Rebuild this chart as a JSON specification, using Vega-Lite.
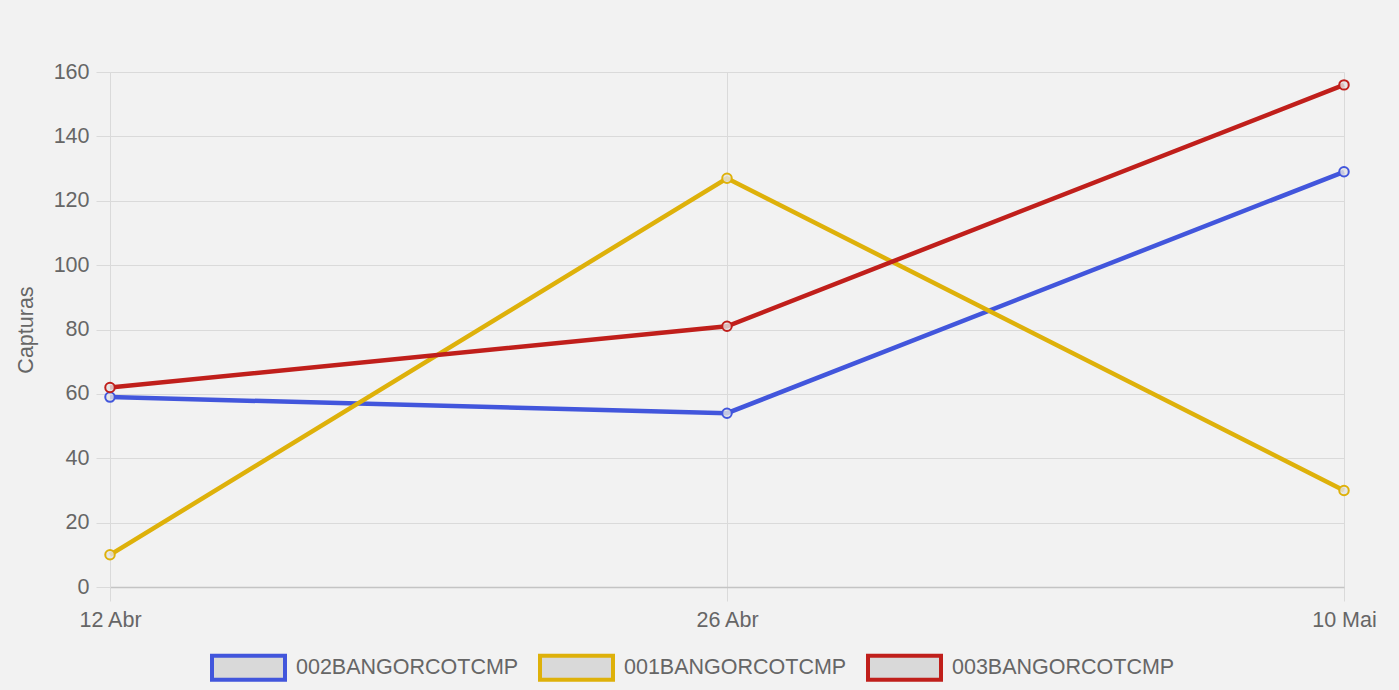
{
  "$schema": "https://vega.github.io/schema/vega-lite/v6.json",
  "autosize": {"type": "none"},
  "width": 1234,
  "height": 515,
  "padding": {"left": 110, "top": 72, "right": 55, "bottom": 103},
  "background": "#f2f2f2",
  "config": {
    "view": {"stroke": null},
    "font": "Liberation Sans",
    "axis": {
      "labelFont": "Liberation Sans",
      "labelFontSize": 21.5,
      "labelColor": "#666666",
      "titleFont": "Liberation Sans",
      "titleFontSize": 21.5,
      "titleColor": "#666666",
      "titleFontWeight": "normal",
      "gridColor": "#dadada",
      "gridWidth": 1,
      "tickColor": "#dadada",
      "tickSize": 14,
      "domainColor": "#c4c4c4"
    }
  },
  "data": {
    "values": [
      {"date": "12 Abr", "serie": "002BANGORCOTCMP", "capturas": 59},
      {"date": "26 Abr", "serie": "002BANGORCOTCMP", "capturas": 54},
      {"date": "10 Mai", "serie": "002BANGORCOTCMP", "capturas": 129},
      {"date": "12 Abr", "serie": "001BANGORCOTCMP", "capturas": 10},
      {"date": "26 Abr", "serie": "001BANGORCOTCMP", "capturas": 127},
      {"date": "10 Mai", "serie": "001BANGORCOTCMP", "capturas": 30},
      {"date": "12 Abr", "serie": "003BANGORCOTCMP", "capturas": 62},
      {"date": "26 Abr", "serie": "003BANGORCOTCMP", "capturas": 81},
      {"date": "10 Mai", "serie": "003BANGORCOTCMP", "capturas": 156}
    ]
  },
  "encoding": {
    "x": {
      "field": "date",
      "type": "nominal",
      "sort": ["12 Abr", "26 Abr", "10 Mai"],
      "scale": {"type": "point", "padding": 0},
      "axis": {"title": null, "labelAngle": 0, "labelPadding": 8, "grid": true, "domain": true, "domainColor": "#c4c4c4", "domainWidth": 1.5}
    },
    "y": {
      "field": "capturas",
      "type": "quantitative",
      "scale": {"domain": [0, 160], "nice": false},
      "axis": {"title": "Capturas", "values": [0, 20, 40, 60, 80, 100, 120, 140, 160], "labelPadding": 7, "titlePadding": 16, "domain": true, "domainColor": "#dadada", "grid": true}
    },
    "color": {
      "field": "serie",
      "type": "nominal",
      "scale": {
        "domain": ["002BANGORCOTCMP", "001BANGORCOTCMP", "003BANGORCOTCMP"],
        "range": ["#4256dc", "#deb10a", "#c01f1b"]
      },
      "legend": {
        "title": null,
        "orient": "none",
        "direction": "horizontal",
        "legendX": 100,
        "legendY": 557,
        "padding": 0,
        "symbolType": "M-1,-0.33H1V0.33H-1Z",
        "symbolSize": 5329,
        "symbolStrokeWidth": 4,
        "symbolFillColor": "#d9d9d9",
        "symbolOpacity": 1,
        "labelFont": "Liberation Sans",
        "labelFontSize": 21.5,
        "labelColor": "#666666",
        "labelOffset": 9,
        "columnPadding": 13,
        "labelLimit": 400,
        "encode": {
          "symbols": {
            "update": {
              "fill": {"value": "#d9d9d9"},
              "strokeWidth": {"value": 4},
              "opacity": {"value": 1}
            }
          }
        }
      }
    }
  },
  "layer": [
    {
      "mark": {"type": "line", "strokeWidth": 4.5}
    },
    {
      "mark": {"type": "point", "filled": false, "fill": "#e3e3e3", "fillOpacity": 0.8, "strokeWidth": 2, "size": 90, "opacity": 1}
    }
  ]
}
